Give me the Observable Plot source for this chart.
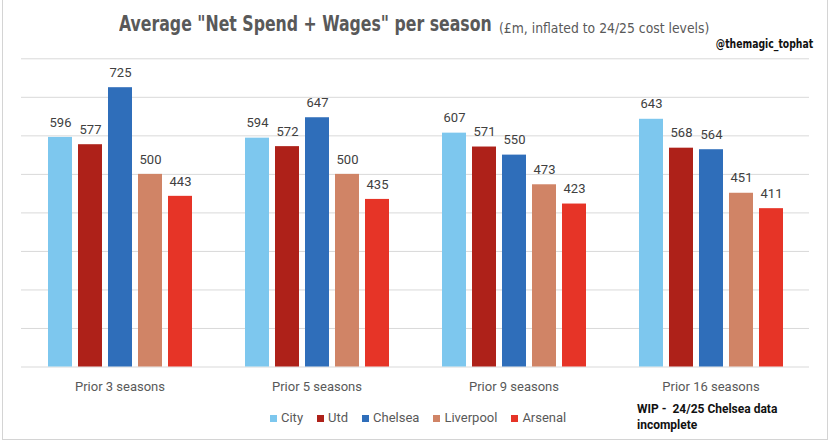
<!DOCTYPE html>
<html><head><meta charset="utf-8">
<script src="https://cdn.jsdelivr.net/npm/d3@7"></script>
<script src="https://cdn.jsdelivr.net/npm/@observablehq/plot@0.6"></script>
<style>
body{margin:0;background:#fff;}
#wrap{position:relative;width:833px;height:443px;overflow:hidden;font-family:Roboto,"Noto Sans",sans-serif;background:#fff;}
#wrap .frame{position:absolute;left:2px;top:0;width:826px;height:440px;border-left:1px solid #d4d4d4;border-right:1px solid #d4d4d4;border-bottom:1px solid #d4d4d4;box-sizing:border-box;pointer-events:none;}
.narrow{font-family:"Liberation Sans Narrow","DejaVu Sans Condensed",sans-serif;font-stretch:condensed;white-space:nowrap;}
#title{position:absolute;left:119px;top:11px;color:#595959;font-size:22px;font-weight:bold;line-height:26px;transform:scaleX(0.795);transform-origin:0 50%;}
#subtitle{position:absolute;left:499px;top:18px;color:#595959;font-size:14px;line-height:20px;transform:scaleX(0.985);transform-origin:0 50%;}
#handle{position:absolute;right:20px;top:37px;font-size:12px;font-weight:bold;color:#111;transform:scaleX(0.86);transform-origin:100% 50%;}
#chart{position:absolute;left:0;top:50px;}
#legend{position:absolute;left:270px;top:410px;display:flex;font-size:13px;color:#595959;line-height:16px;}
#legend .it{display:flex;align-items:center;margin-right:14px;}
#legend .sw{width:7px;height:7px;margin-right:4px;}
#note{position:absolute;left:637px;top:401px;font-size:12px;font-weight:bold;line-height:16px;color:#111;}
</style></head><body>
<div id="wrap">
<div id="title" class="narrow">Average "Net Spend + Wages" per season</div>
<div id="subtitle" class="narrow">(£m, inflated to 24/25 cost levels)</div>
<div id="handle" class="narrow">@themagic_tophat</div>
<div id="chart"></div>
<div id="legend"></div>
<div id="note">WIP -&nbsp; 24/25 Chelsea data<br>incomplete</div>
<div class="frame"></div>
</div>
<script>
const periods = ["Prior 3 seasons", "Prior 5 seasons", "Prior 9 seasons", "Prior 16 seasons"];
const clubs = ["City", "Utd", "Chelsea", "Liverpool", "Arsenal"];
const city = [596, 594, 607, 643];
const utd = [577, 572, 571, 568];
const chelsea = [725, 647, 550, 564];
const liverpool = [500, 500, 473, 451];
const arsenal = [443, 435, 423, 411];
const colors = ["#7dc7ee", "#ae2119", "#2f6eba", "#d08466", "#e63427"];
const yTicks = [0, 100, 200, 300, 400, 500, 600, 700, 800];

const series = [city, utd, chelsea, liverpool, arsenal];
const data = periods.flatMap((p, i) => clubs.map((c, j) => ({period: p, club: c, value: series[j][i]})));

const chart = Plot.plot({
  width: 833, height: 350,
  marginLeft: 20, marginRight: 23, marginTop: 8.3, marginBottom: 33.5,
  style: {fontFamily: "Roboto, 'Noto Sans', sans-serif", background: "transparent"},
  fx: {domain: periods, padding: 0, label: null},
  x: {domain: clubs, paddingInner: 0.213, paddingOuter: 0.84, axis: null},
  y: {domain: [0, 800], axis: null},
  color: {domain: clubs, range: colors},
  marks: [
    Plot.gridY(yTicks, {stroke: "#d9d9d9", strokeOpacity: 1}),
    Plot.barY(data, {fx: "period", x: "club", y: "value", fill: "club"}),
    Plot.text(data, {fx: "period", x: "club", y: "value", text: "value", dy: -15, fontSize: 13, fill: "#404040"}),
    Plot.axisFx({anchor: "bottom", tickSize: 0, tickPadding: 15, fontSize: 13, color: "#595959", label: null})
  ]
});
document.getElementById("chart").appendChild(chart);

const leg = document.getElementById("legend");
clubs.forEach((c, i) => {
  const it = document.createElement("div");
  it.className = "it";
  const sw = document.createElement("div");
  sw.className = "sw";
  sw.style.background = colors[i];
  const t = document.createElement("span");
  t.textContent = c;
  it.appendChild(sw); it.appendChild(t);
  leg.appendChild(it);
});
</script>
</body></html>
